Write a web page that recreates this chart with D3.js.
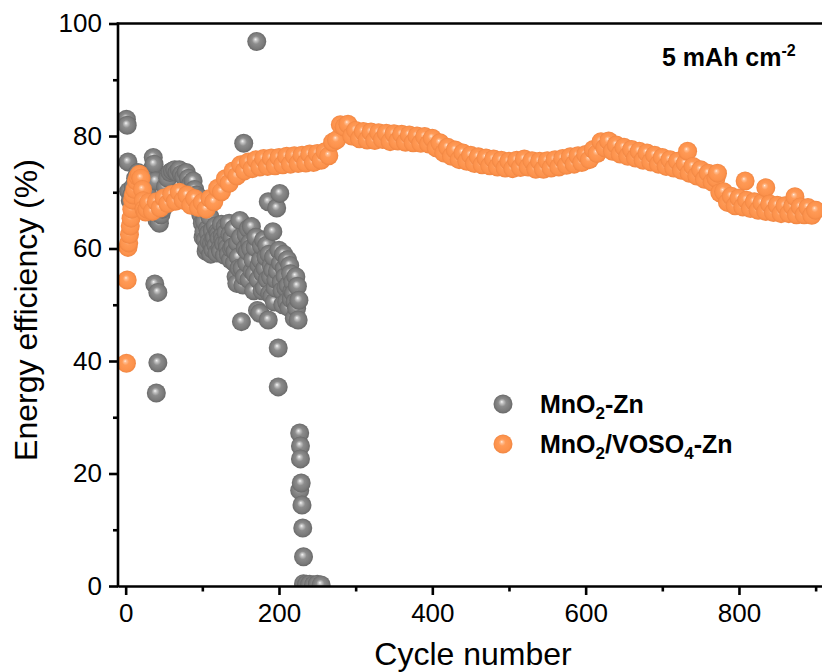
<!DOCTYPE html>
<html>
<head>
<meta charset="utf-8">
<script src="https://cdn.jsdelivr.net/npm/d3@7"></script>
<style>
  html, body { margin: 0; padding: 0; background: #fff; }
  svg { display: block; font-family: "Liberation Sans", Arial, sans-serif; }
</style>
</head>
<body>
<svg id="chart" width="822" height="672"></svg>
<script>
// ---- Data -------------------------------------------------------------
// MnO2-Zn cell: energy efficiency (%) per cycle
const mnCycles = [
  1, 2, 3, 4, 6, 8, 10, 13, 16, 19, 22, 25, 28, 31, 34, 36, 37, 39, 40, 41,
  38, 42, 42, 40,
  44, 46, 48, 50, 52, 55, 58, 61, 64, 67, 70, 73, 76, 79, 82, 85, 88, 90, 92, 94,
  96, 98, 100, 102, 104, 106, 108, 110, 112, 114, 116, 118, 120, 122, 124, 126, 128, 130,
  132, 134, 136, 138, 140, 142, 144, 145, 147, 149, 150, 151, 152, 153, 154, 156, 158, 160,
  162, 164, 166, 168, 170, 171, 172, 174, 175, 177, 179, 181, 183, 184, 186, 186, 188, 190,
  192, 192, 194, 196, 197, 199, 199, 200, 201, 202, 204, 206, 208, 210, 212, 214, 216, 218,
  219, 220, 221, 223, 224, 225,
  97, 99, 101, 103, 105, 107, 109, 111, 113, 115, 117, 119, 121, 123, 125, 127, 129, 131,
  133, 135, 137, 139, 141, 143, 146, 148, 155, 157, 159, 161, 163, 165, 167, 169, 173, 176,
  178, 180, 182, 185, 187, 189, 191, 193, 195, 198, 203, 205, 207, 209, 211, 213, 215, 217,
  222, 226,
  227, 228, 228, 229, 227, 230, 231, 232, 232, 236, 240, 245, 250, 255
];
const mnValues = [
  83.0, 81.9, 75.4, 70.2, 68.5, 69.5, 71.0, 72.5, 73.5, 72.0, 70.5, 69.0, 70.0, 72.5, 74.0, 76.2, 75.0, 72.0, 66.5, 65.0,
  53.7, 52.2, 39.7, 34.3,
  64.5, 66.0, 67.0, 69.0, 71.0, 72.5, 73.5, 73.8, 74.0, 73.5, 74.0, 73.2, 72.8, 73.5, 72.5, 71.5, 72.0, 70.5, 69.5, 68.0,
  67.0, 66.0, 64.5, 63.0, 61.5, 60.3, 62.7, 65.6, 61.0, 59.8, 62.0, 60.5, 63.0, 61.8, 59.5, 62.2, 60.8, 63.9,
  61.0, 59.0, 62.5, 60.0, 60.3, 57.5, 55.0, 53.8, 58.5, 65.0, 62.0, 47.0, 56.5, 53.5, 78.7, 60.0, 57.4, 63.5,
  61.0, 63.9, 58.0, 55.5, 62.0, 96.8, 49.0, 57.0, 48.5, 60.5, 55.6, 53.0, 58.5, 60.6, 47.3, 68.3, 52.0, 57.0,
  56.2, 63.0, 50.5, 54.5, 67.2, 42.3, 35.4, 59.7, 69.8, 57.4, 52.5, 59.0, 55.0, 50.5, 53.5, 57.0, 51.0, 54.0,
  52.0, 47.6, 50.5, 49.4, 53.3, 47.3,
  69.0, 67.5, 62.0, 64.8, 59.5, 63.5, 61.2, 59.0, 63.2, 61.5, 64.0, 59.2, 62.5, 60.0, 64.3, 61.5, 58.8, 62.8,
  60.2, 64.5, 58.0, 62.0, 63.5, 59.5, 61.0, 56.5, 55.0, 62.5, 59.5, 54.5, 60.0, 56.0, 52.5, 60.2, 54.5, 58.0,
  52.5, 61.5, 56.5, 54.5, 59.0, 55.0, 51.5, 58.5, 53.0, 56.0, 54.0, 50.0, 56.5, 53.0, 58.0, 49.5, 55.5, 52.5,
  55.0, 50.8,
  27.2, 24.9, 22.6, 18.3, 17.0, 14.4, 10.3, 5.2, 0.4, 0.3, 0.3, 0.2, 0.3, 0.2
];

// MnO2/VOSO4-Zn cell: first cycles, then every 5th cycle from 30 to 900
const voEarlyCycles = [1, 2, 3, 4, 5, 6, 7, 8, 9, 10, 12, 14, 16, 18, 20, 22, 23, 24, 26, 28];
const voEarlyValues = [39.6, 54.4, 60.2, 61.0, 62.5, 64.0, 65.4, 67.0, 68.6, 69.5, 70.5, 72.0, 72.8, 73.2, 72.5, 70.5, 68.5, 67.0, 66.5, 67.0];

const voCycles = d3.range(30, 901, 5);
const voValues = [
  68.2, 66.6, 68.3, 67.2, 69.0, 68.0, 69.6, 68.4, 70.0, 68.6, 69.5, 67.7, 68.9, 67.3,
  68.2, 67.0, 68.9, 68.3, 70.7, 70.1, 72.4, 71.6, 73.8, 72.9, 74.9, 73.8, 75.4, 74.2, 75.8, 74.5, 76.0, 74.6, 76.1, 74.7,
  76.2, 74.9, 76.4, 75.0, 76.5, 75.1, 76.6, 75.2, 76.8, 75.3, 76.9, 75.7, 77.2, 76.5, 78.9, 79.3, 82.0, 81.6, 82.1, 80.0,
  81.0, 79.5, 80.8, 79.3, 80.7, 79.2, 80.6, 79.4, 80.5, 79.0, 80.4, 79.1, 80.3, 78.9, 80.2, 78.8, 80.0, 78.7, 79.9, 78.6,
  79.6, 77.9, 78.8, 77.0, 78.0, 76.4, 77.5, 75.8, 77.0, 75.5, 76.6, 75.1, 76.3, 74.9, 76.1, 74.7, 75.9, 74.5, 75.7, 74.3,
  75.5, 74.2, 75.7, 74.4, 75.9, 74.5, 75.6, 74.1, 75.5, 74.1, 75.6, 74.3, 75.8, 74.5, 76.0, 74.8, 76.3, 75.0, 76.5, 75.3,
  76.7, 75.8, 77.6, 76.9, 79.0, 77.9, 79.1, 77.3, 78.4, 76.8, 78.0, 76.4, 77.6, 76.1, 77.3, 75.7, 77.0, 75.4, 76.6, 75.0,
  76.2, 74.6, 75.8, 74.3, 75.5, 73.9, 75.1, 73.4, 74.6, 72.9, 74.0, 72.3, 73.4, 71.8, 72.5, 69.9, 70.1, 68.2, 69.3, 67.6,
  69.0, 67.4, 68.6, 67.1, 68.3, 66.8, 68.1, 66.6, 67.9, 66.4, 67.7, 66.2, 67.6, 66.2, 67.5, 66.0, 67.4, 66.0, 67.3, 65.9, 66.8
];

// Scattered higher readings late in the run
const voExtraCycles = [733, 772, 808, 835, 873];
const voExtraValues = [77.3, 73.4, 72.0, 70.8, 69.2];

const xTicks = [0, 200, 400, 600, 800];
const xMinorTicks = [100, 300, 500, 700, 900];
const yTicks = [0, 20, 40, 60, 80, 100];
const yMinorTicks = [10, 30, 50, 70, 90];

const seriesNames = ["MnO2-Zn", "MnO2/VOSO4-Zn"];

// ---- Layout -----------------------------------------------------------
const svg = d3.select("#chart");
const plotLeft = 118, plotRight = 823.3, plotTop = 23.5, plotBottom = 586;

const x = d3.scaleLinear().domain([-10, 910]).range([plotLeft, plotRight]);
const y = d3.scaleLinear().domain([0, 100]).range([plotBottom, plotTop]);

const R = 9.5;

// Sphere-style shading
const defs = svg.append("defs");
function sphereGradient(id, stops) {
  const g = defs.append("radialGradient")
    .attr("id", id)
    .attr("cx", 0.5).attr("cy", 0.5).attr("r", 0.5)
    .attr("fx", 0.43).attr("fy", 0.38);
  stops.forEach(([o, c]) => g.append("stop").attr("offset", o).attr("stop-color", c));
}
sphereGradient("ballGray", [
  [0, "#f6f6f6"], [0.16, "#c6c6c6"], [0.42, "#8c8c8c"], [0.8, "#7a7a7a"], [1, "#686868"]
]);
sphereGradient("ballOrange", [
  [0, "#fff3e8"], [0.12, "#ffc197"], [0.36, "#ff9a56"], [0.8, "#fc924c"], [1, "#f08642"]
]);

defs.append("clipPath").attr("id", "plotClip")
  .append("rect")
  .attr("x", plotLeft).attr("y", plotTop - 2)
  .attr("width", plotRight - plotLeft).attr("height", plotBottom - plotTop + 2);

// ---- Points -----------------------------------------------------------
const mnPoints = mnCycles.map((c, i) => ({ c, v: mnValues[i] }))
  .sort((a, b) => a.c - b.c);

const voPoints = []
  .concat(voEarlyCycles.map((c, i) => ({ c, v: voEarlyValues[i] })))
  .concat(voCycles.map((c, i) => ({ c, v: voValues[i] })))
  .concat(voExtraCycles.map((c, i) => ({ c, v: voExtraValues[i] })))
  .sort((a, b) => a.c - b.c);

const plot = svg.append("g").attr("clip-path", "url(#plotClip)");

plot.append("g").selectAll("circle")
  .data(mnPoints)
  .join("circle")
  .attr("cx", d => x(d.c))
  .attr("cy", d => y(d.v))
  .attr("r", R)
  .attr("fill", "url(#ballGray)");

plot.append("g").selectAll("circle")
  .data(voPoints)
  .join("circle")
  .attr("cx", d => x(d.c))
  .attr("cy", d => y(d.v))
  .attr("r", R)
  .attr("fill", "url(#ballOrange)");

// ---- Axes -------------------------------------------------------------
const axisW = 2.6;
function styleAxis(g) {
  g.selectAll("path.domain").attr("stroke", "#000").attr("stroke-width", axisW);
  g.selectAll(".tick line").attr("stroke", "#000").attr("stroke-width", axisW);
  g.selectAll(".tick text")
    .attr("fill", "#000")
    .style("font-size", "26px")
    .style("font-family", '"Liberation Sans", Arial, sans-serif');
}

// bottom
svg.append("g")
  .attr("transform", `translate(0,${plotBottom})`)
  .call(d3.axisBottom(x).tickValues(xTicks).tickSize(9).tickSizeOuter(0).tickPadding(9))
  .call(styleAxis)
  .call(g => g.selectAll(".tick text").attr("dy", "0.71em"));

svg.append("g")
  .attr("transform", `translate(0,${plotBottom})`)
  .call(d3.axisBottom(x).tickValues(xMinorTicks).tickSize(5.5).tickSizeOuter(0).tickFormat(""))
  .call(styleAxis)
  .call(g => g.select("path.domain").remove());

// left
svg.append("g")
  .attr("transform", `translate(${plotLeft},0)`)
  .call(d3.axisLeft(y).tickValues(yTicks).tickSize(9).tickSizeOuter(0).tickPadding(7))
  .call(styleAxis)
  .call(g => g.select("path.domain").attr("d", `M0,${plotTop - 1}V${plotBottom + 1.3}`));

svg.append("g")
  .attr("transform", `translate(${plotLeft},0)`)
  .call(d3.axisLeft(y).tickValues(yMinorTicks).tickSize(5).tickSizeOuter(0).tickFormat(""))
  .call(styleAxis)
  .call(g => g.select("path.domain").remove());

// top frame line
svg.append("g")
  .attr("transform", `translate(0,${plotTop})`)
  .call(d3.axisTop(x).tickValues([]).tickSizeOuter(0))
  .call(styleAxis)
  .call(g => g.select("path.domain").attr("d", `M${plotLeft - 1.3},0H${plotRight}`));

// axis titles
svg.append("text")
  .attr("x", 473).attr("y", 665)
  .attr("text-anchor", "middle")
  .style("font-size", "32px")
  .attr("fill", "#000")
  .text("Cycle number");

svg.append("text")
  .attr("transform", "translate(37,310) rotate(-90)")
  .attr("text-anchor", "middle")
  .style("font-size", "32px")
  .attr("fill", "#000")
  .text("Energy efficiency (%)");

// ---- Annotation -------------------------------------------------------
const note = svg.append("text")
  .attr("x", 662).attr("y", 66)
  .style("font-size", "25px")
  .style("font-weight", "bold")
  .attr("fill", "#000");
note.append("tspan").text("5 mAh cm");
note.append("tspan").attr("dy", -10).style("font-size", "16px").text("-2");

// ---- Legend -----------------------------------------------------------
const legend = svg.append("g");
const legendRows = [
  { y: 404, fill: "url(#ballGray)", parts: [["MnO", 0], ["2", 1], ["-Zn", 0]] },
  { y: 444, fill: "url(#ballOrange)", parts: [["MnO", 0], ["2", 1], ["/VOSO", 0], ["4", 1], ["-Zn", 0]] }
];
legendRows.forEach((row, i) => {
  legend.append("circle")
    .attr("cx", 503).attr("cy", row.y).attr("r", R)
    .attr("fill", row.fill);
  const t = legend.append("text")
    .attr("x", 540).attr("y", row.y + 8.5)
    .style("font-size", "25px")
    .style("font-weight", "bold")
    .attr("fill", "#000")
    .attr("aria-label", seriesNames[i]);
  let shifted = false;
  row.parts.forEach(([s, sub]) => {
    const ts = t.append("tspan").text(s);
    if (sub) { ts.attr("dy", 6).style("font-size", "17px"); shifted = true; }
    else if (shifted) { ts.attr("dy", -6); shifted = false; }
  });
});
</script>
</body>
</html>
